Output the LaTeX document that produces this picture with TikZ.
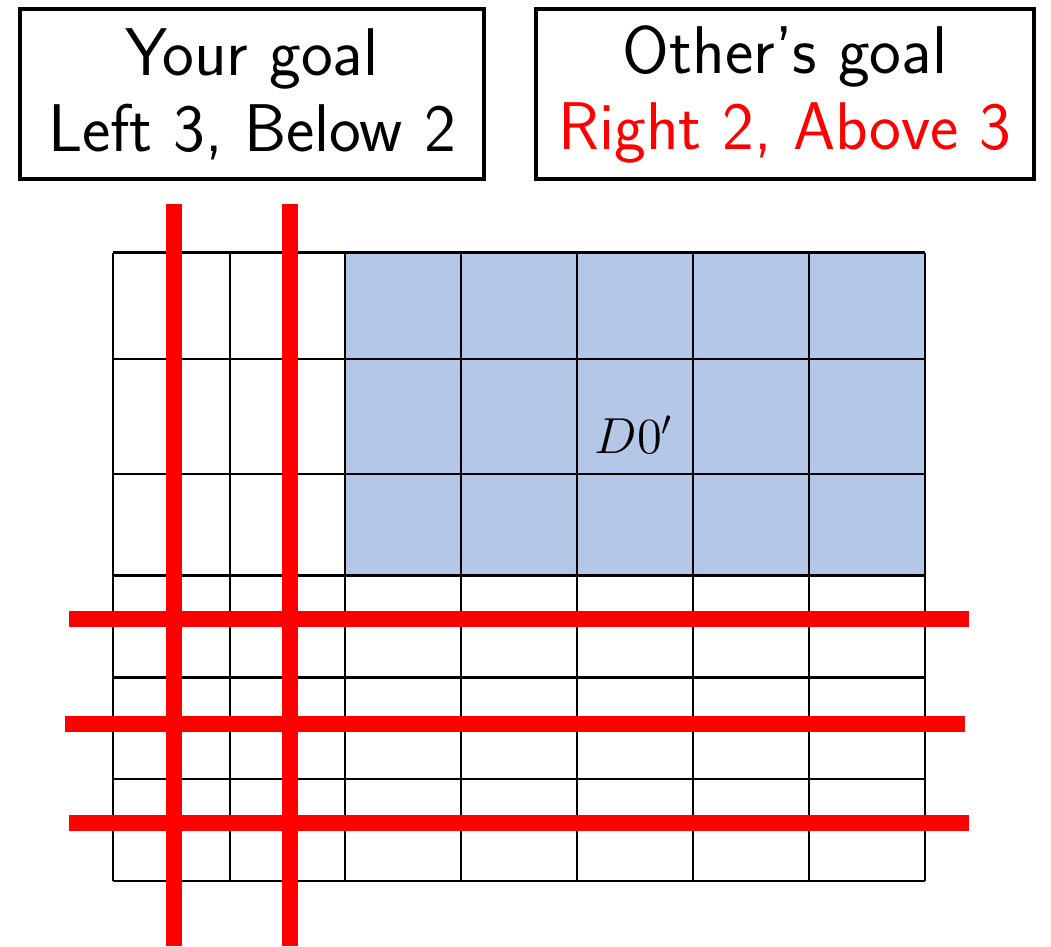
\documentclass[tikz,border=0pt]{standalone}
\usepackage{xcolor}
\usepackage{tikz}
\usetikzlibrary{positioning}
\definecolor{cellblue}{RGB}{180,199,231}
\definecolor{cutred}{RGB}{255,0,0}
\tikzset{
  goalbox/.style={draw=black,line width=1.2pt,align=center,font=\sffamily\fontsize{19.2}{21.6}\selectfont,inner sep=0pt,minimum height=1.70cm},
  gridln/.style ={draw=black,line width=0.75pt},
  cutln/.style  ={draw=cutred,line width=4.3pt},
  cell/.style   ={font=\fontsize{13.8}{16}\selectfont,inner sep=0pt},
}

\begin{document}
\begin{tikzpicture}
\useasboundingbox (0,0) rectangle (10.51,-9.46);
\node[goalbox,minimum width=4.64cm] (yours) at (2.52,-0.94) {Your goal\\ Left 3, Below 2};
\node[goalbox,minimum width=4.98cm] (others) at (7.85,-0.94) {Other's goal\\ \textcolor{cutred}{Right 2, Above 3}};

% shaded block and grid
\fill[cellblue] (3.45,-2.527) rectangle (9.25,-5.757);
\foreach \x in {1.13,2.30,3.45,4.61,5.77,6.93,8.09,9.25}
  \draw[gridln] (\x,-2.527) -- (\x,-8.81);
\foreach \y in {2.527,3.59,4.74,5.757,6.777,7.79,8.81}
  \draw[gridln] (1.13,-\y) -- (9.25,-\y);
\node[cell] (dzero) at (6.34,-4.35) {$D0'$};

% cuts
\draw[cutln] (1.74,-2.04) -- (1.74,-9.46);
\draw[cutln] (2.90,-2.04) -- (2.90,-9.46);
\draw[cutln] (0.69,-6.19) -- (9.69,-6.19);
\draw[cutln] (0.65,-7.24) -- (9.65,-7.24);
\draw[cutln] (0.69,-8.23) -- (9.69,-8.23);
\end{tikzpicture}
\end{document}
